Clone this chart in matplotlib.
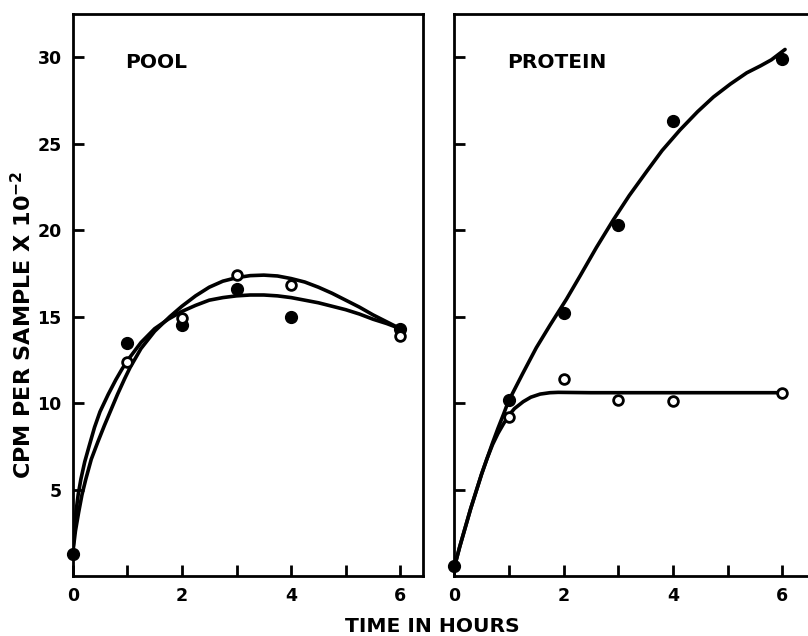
import matplotlib
matplotlib.use("Agg")
import matplotlib.pyplot as plt

plt.rcParams['font.family'] = ['DejaVu Sans']
plt.rcParams['font.weight'] = 'bold'
plt.rcParams['mathtext.default'] = 'bf'

# measured points (hours, cpm per sample x 10^-2)
hours = [0, 1, 2, 3, 4, 6]
hours_open = [1, 2, 3, 4, 6]

pool_filled = [1.3, 13.5, 14.5, 16.6, 15.0, 14.3]
pool_open = [12.35, 14.9, 17.4, 16.8, 13.9]

protein_filled = [0.6, 10.2, 15.2, 20.3, 26.3, 29.9]
protein_open = [9.2, 11.4, 10.2, 10.1, 10.6]

# hand drawn curves
pool_curve_a_t = [0, 0.05, 0.11, 0.17, 0.24, 0.34, 0.46, 0.58, 0.7, 0.82, 0.95, 1.05, 1.25, 1.5, 1.78,
                  2.0, 2.25, 2.5, 2.75, 3.0, 3.25, 3.5, 3.75, 4.0, 4.25, 4.5, 4.75, 5.0, 5.25, 5.5, 5.75, 6.0]
pool_curve_a_v = [1.3, 2.6, 3.7, 4.7, 5.6, 6.75, 7.75, 8.7, 9.6, 10.5, 11.4, 12.05, 13.15, 14.15, 15.0,
                  15.6, 16.2, 16.7, 17.05, 17.25, 17.37, 17.4, 17.35, 17.2, 17.0, 16.7, 16.35, 15.95, 15.55, 15.1, 14.7, 14.3]
pool_curve_b_t = [0, 0.03, 0.06, 0.1, 0.15, 0.22, 0.3, 0.4, 0.5, 0.65, 0.79, 0.9, 1.0, 1.25, 1.5, 1.75,
                  2.0, 2.25, 2.5, 2.75, 3.0, 3.25, 3.5, 3.75, 4.0, 4.25, 4.5, 4.75, 5.0, 5.25, 5.5, 5.75, 6.0]
pool_curve_b_v = [1.3, 2.6, 3.7, 4.7, 5.6, 6.6, 7.5, 8.6, 9.5, 10.5, 11.35, 11.95, 12.45, 13.5, 14.3, 14.85,
                  15.3, 15.65, 15.95, 16.1, 16.2, 16.25, 16.25, 16.2, 16.1, 15.95, 15.8, 15.6, 15.4, 15.15, 14.85, 14.6, 14.3]

prot_curve_f_t = [0, 0.1, 0.2, 0.3, 0.41, 0.5, 0.6, 0.7, 0.8, 0.9, 0.99, 1.25, 1.5, 1.75, 2.05, 2.3, 2.6,
                  2.91, 3.2, 3.52, 3.8, 4.13, 4.45, 4.74, 5.05, 5.35, 5.6, 5.8, 6.05]
prot_curve_f_v = [0.5, 1.7, 2.8, 3.9, 5.0, 5.9, 6.8, 7.7, 8.55, 9.35, 10.1, 11.7, 13.2, 14.5, 16.0, 17.35, 19.0,
                  20.6, 22.0, 23.4, 24.6, 25.8, 26.85, 27.7, 28.45, 29.1, 29.5, 29.85, 30.45]
prot_curve_o_t = [0, 0.1, 0.2, 0.3, 0.41, 0.5, 0.6, 0.7, 0.8, 0.9, 1.0, 1.1, 1.26, 1.4, 1.57, 1.75, 1.9, 2.5, 6.0]
prot_curve_o_v = [0.5, 1.7, 2.8, 3.9, 5.0, 5.9, 6.8, 7.6, 8.25, 8.8, 9.3, 9.68, 10.08, 10.34, 10.52, 10.6, 10.62, 10.6, 10.6]

fig = plt.figure(figsize=(8.08, 6.36), dpi=100)
ax1 = fig.add_axes([72.7 / 808, 1 - 576 / 636, 350.3 / 808, 562 / 636])
ax2 = fig.add_axes([454.3 / 808, 1 - 576 / 636, 353.7 / 808, 562 / 636])

lw = 2.6
ax1.plot(pool_curve_a_t, pool_curve_a_v, color='black', lw=lw, solid_joinstyle='round', solid_capstyle='round')
ax1.plot(pool_curve_b_t, pool_curve_b_v, color='black', lw=lw, solid_joinstyle='round', solid_capstyle='round')
ax1.plot(hours, pool_filled, 'o', color='black', ms=8.5, clip_on=False, zorder=5)
ax1.plot(hours_open, pool_open, 'o', mfc='white', mec='black', mew=2, ms=7, clip_on=False, zorder=6)

ax2.plot(prot_curve_f_t, prot_curve_f_v, color='black', lw=lw, solid_joinstyle='round', solid_capstyle='round')
ax2.plot(prot_curve_o_t, prot_curve_o_v, color='black', lw=lw, solid_joinstyle='round', solid_capstyle='round')
ax2.plot(hours, protein_filled, 'o', color='black', ms=8.5, clip_on=False, zorder=5)
ax2.plot(hours_open, protein_open, 'o', mfc='white', mec='black', mew=2, ms=7, clip_on=False, zorder=6)

for ax in (ax1, ax2):
    ax.set_ylim(0, 32.5)
    ax.set_yticks([5, 10, 15, 20, 25, 30])
    ax.set_xticks([0, 1, 2, 3, 4, 5, 6])
    ax.set_xticklabels(['0', '', '2', '', '4', '', '6'])
    ax.tick_params(direction='in', length=8, width=2, labelsize=12.5, pad=8)
    for s in ax.spines.values():
        s.set_linewidth(2)

ax1.set_xlim(0, 6.415)
ax2.set_xlim(0, 6.47)
ax2.tick_params(labelleft=False)
ax2.spines['right'].set_visible(False)

ax1.text(0.96, 29.7, 'POOL', fontsize=14.5, fontweight='bold', va='center', ha='left')
ax2.text(0.96, 29.7, 'PROTEIN', fontsize=14.5, fontweight='bold', va='center', ha='left')

fig.text(432 / 808, 1 - 627 / 636, 'TIME IN HOURS', fontsize=14.6, fontweight='bold', ha='center', va='center')
fig.text(23 / 808, 1 - 325 / 636, r'CPM PER SAMPLE X 10$^{-2}$', fontsize=16, fontweight='bold',
         rotation=90, ha='center', va='center')

fig.savefig('out.png', dpi=100)
